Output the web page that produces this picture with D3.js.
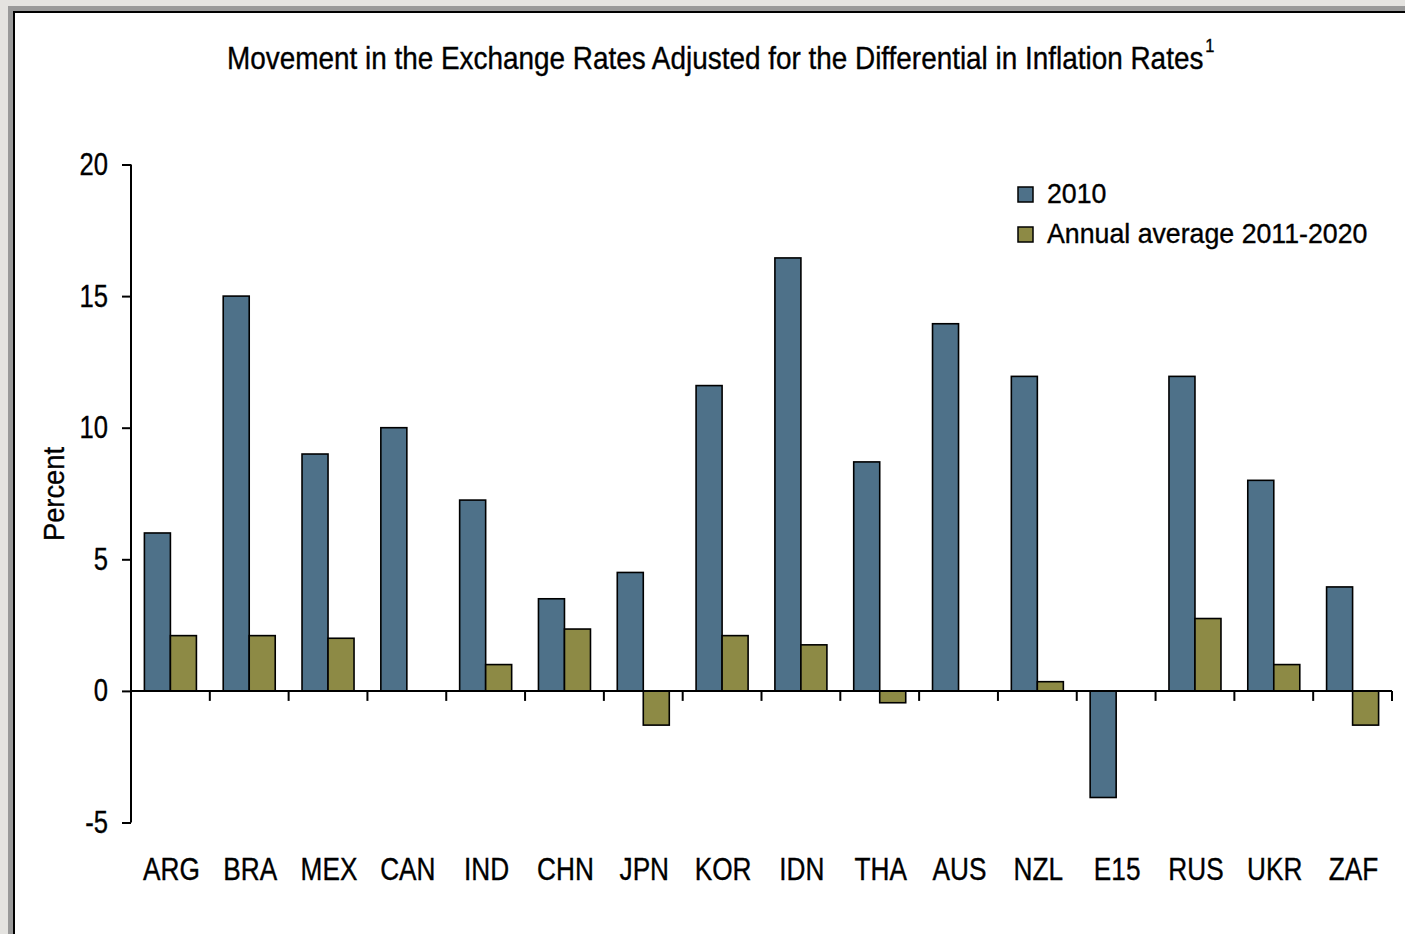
<!DOCTYPE html>
<html>
<head>
<meta charset="utf-8">
<script src="https://cdn.jsdelivr.net/npm/d3@7"></script>
<style>
  html, body { margin: 0; padding: 0; background: #e4e3e0; overflow: hidden; }
  svg { display: block; }
  text { font-family: "Liberation Sans", Arial, sans-serif; fill: #000; stroke: #000; stroke-width: 0.35px; }
</style>
</head>
<body>
<svg id="chart" width="1405" height="934"></svg>
<script>
const categories = ["ARG","BRA","MEX","CAN","IND","CHN","JPN","KOR","IDN","THA","AUS","NZL","E15","RUS","UKR","ZAF"];
const seriesNames = ["2010", "Annual average 2011-2020"];
const values2010 = [6, 15, 9, 10, 7.25, 3.5, 4.5, 11.6, 16.45, 8.7, 13.95, 11.95, -4.05, 11.95, 8, 3.95];
const valuesAvg = [2.1, 2.1, 2.0, 0, 1.0, 2.35, -1.3, 2.1, 1.75, -0.45, 0, 0.35, 0, 2.75, 1.0, -1.3];
const yTicks = [-5, 0, 5, 10, 15, 20];
const colors = ["#4e7189", "#8d8a45"];

const svg = d3.select("#chart");

// frame
svg.append("rect").attr("x", 8).attr("y", 6).attr("width", 1500).attr("height", 1000).attr("fill", "#999999");
svg.append("rect").attr("x", 13).attr("y", 11).attr("width", 1500).attr("height", 1000).attr("fill", "#000");
svg.append("rect").attr("x", 15).attr("y", 13).attr("width", 1500).attr("height", 1000).attr("fill", "#fff");

// condensed text helper
function ctext(parent, x, y, s, size, anchor, txt, rot) {
  return parent.append("text")
    .attr("transform", `translate(${x},${y})` + (rot ? ` rotate(${rot})` : "") + ` scale(${s},1)`)
    .attr("font-size", size)
    .attr("text-anchor", anchor)
    .text(txt);
}

// title
const title = svg.append("text").attr("transform", "translate(227,69) scale(0.915,1)").attr("font-size", 30.5);
title.append("tspan").text("Movement in the Exchange Rates Adjusted for the Differential in Inflation Rates");
title.append("tspan").attr("font-size", 18).attr("dy", -17).attr("dx", 2).text("1");

const left = 131, right = 1392;
const y = d3.scaleLinear().domain([-5, 20]).range([822.5, 164.5]);
const x0 = d3.scaleBand().domain(categories).range([left, right]).padding(0);
const x1 = d3.scaleBand().domain(seriesNames).range([13.4, x0.bandwidth() - 13.4]);

const data = categories.map((c, i) => ({ c, vals: [values2010[i], valuesAvg[i]] }));

// bars
const g = svg.append("g");
data.forEach(d => {
  d.vals.forEach((v, j) => {
    if (v === 0) return;
    g.append("rect")
      .attr("x", x0(d.c) + x1(seriesNames[j]))
      .attr("y", y(Math.max(0, v)))
      .attr("width", x1.bandwidth())
      .attr("height", Math.abs(y(v) - y(0)))
      .attr("fill", colors[j])
      .attr("stroke", "#000")
      .attr("stroke-width", 1.6);
  });
});

// y axis
const yAxis = svg.append("g").attr("transform", `translate(${left},0)`)
  .call(d3.axisLeft(y).tickValues(yTicks).tickSize(9).tickFormat(""));
yAxis.select(".domain").attr("stroke", "#000").attr("stroke-width", 2).attr("d", `M0,${y(20)}V${y(-5)}`);
yAxis.selectAll(".tick line").attr("stroke", "#000").attr("stroke-width", 2);
yTicks.forEach(t => {
  ctext(svg, 108, y(t) + 10.5, 0.84, 30.5, "end", String(t));
});

// x axis at zero
const xAxisG = svg.append("g").attr("transform", `translate(0,${y(0)})`);
xAxisG.append("line").attr("x1", left).attr("x2", right).attr("y1", 0).attr("y2", 0).attr("stroke", "#000").attr("stroke-width", 2);
const boundaries = categories.map(c => x0(c) + x0.bandwidth());
xAxisG.selectAll("line.tk").data(boundaries).enter().append("line")
  .attr("class", "tk").attr("x1", d => d).attr("x2", d => d).attr("y1", 0).attr("y2", 10)
  .attr("stroke", "#000").attr("stroke-width", 2);

// category labels
categories.forEach(c => {
  ctext(svg, x0(c) + x0.bandwidth() / 2 + 1, 880, 0.86, 30.5, "middle", c);
});

// y label
ctext(svg, 64, 494, 0.91, 30, "middle", "Percent", -90);

// legend
const legend = svg.append("g");
seriesNames.forEach((s, i) => {
  const yy = 187 + i * 40;
  legend.append("rect").attr("x", 1018).attr("y", yy).attr("width", 15).attr("height", 15)
    .attr("fill", colors[i]).attr("stroke", "#000").attr("stroke-width", 1.5);
  ctext(legend, 1047, yy + 15.5, 0.99, 27, "start", s);
});
</script>
</body>
</html>
